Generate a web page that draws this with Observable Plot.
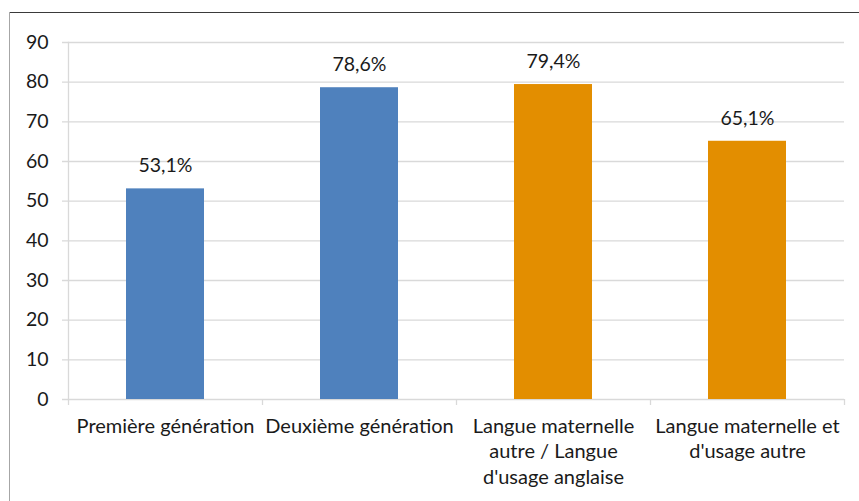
<!DOCTYPE html>
<html>
<head>
<meta charset="utf-8">
<script src="https://cdn.jsdelivr.net/npm/d3@7"></script>
<script src="https://cdn.jsdelivr.net/npm/@observablehq/plot@0.6"></script>
<style>
  html, body { margin: 0; padding: 0; background: #fff; }
  #wrap { position: relative; width: 859px; height: 501px; overflow: hidden; }
  #wrap svg { position: absolute; left: 0; top: 0; }
  #borderTop { position: absolute; left: 10px; top: 12px; width: 849px; height: 0; border-top: 1.2px solid #3a3a3a; }
  #borderLeft { position: absolute; left: 9px; top: 12px; width: 0; height: 489px; border-left: 1.5px solid #a6a6a6; }
</style>
</head>
<body>
<div id="wrap">
  <div id="borderTop"></div>
  <div id="borderLeft"></div>
</div>
<script>
const categories = [
  "Première génération",
  "Deuxième génération",
  "Langue maternelle\nautre / Langue\nd'usage anglaise",
  "Langue maternelle et\nd'usage autre"
];
const values = [53.1, 78.6, 79.4, 65.1];
const groups = ["generation", "generation", "langue", "langue"];
const valueLabels = ["53,1%", "78,6%", "79,4%", "65,1%"];
const yTicks = [0, 10, 20, 30, 40, 50, 60, 70, 80, 90];

const data = categories.map((c, i) => ({cat: c, value: values[i], group: groups[i], label: valueLabels[i]}));

const W = 859, H = 501, ML = 68, MR = 15, MT = 42, MB = 102;
const step = (W - ML - MR) / categories.length;
const font = "Lato, 'Open Sans', sans-serif";

const chart = Plot.plot({
  width: W,
  height: H,
  marginLeft: ML,
  marginRight: MR,
  marginTop: MT,
  marginBottom: MB,
  style: {fontFamily: font, fontSize: "19px", color: "#1a1a1a", background: "transparent"},
  x: {domain: categories, paddingInner: 0.6, paddingOuter: 0.3, axis: null},
  y: {domain: [0, 90], ticks: yTicks, axis: null},
  color: {domain: ["generation", "langue"], range: ["#4F81BD", "#E38E00"]},
  marks: [
    Plot.ruleY(yTicks, {stroke: "#d9d9d9", strokeWidth: 1.3, insetLeft: -6}),
    Plot.frame({anchor: "left", stroke: "#d9d9d9", strokeWidth: 1.3}),
    Plot.ruleX(categories, {x: d => d, y1: 0, y2: 0, insetBottom: -6, dx: -step / 2, stroke: "#d9d9d9", strokeWidth: 1.3}),
    Plot.ruleX(categories.slice(-1), {x: d => d, y1: 0, y2: 0, insetBottom: -6, dx: step / 2, stroke: "#d9d9d9", strokeWidth: 1.3}),
    Plot.barY(data, {x: "cat", y: "value", fill: d => d.group}),
    Plot.text(data, {x: "cat", y: "value", text: "label", dy: -23, fontSize: 19.5, fill: "#1a1a1a"}),
    Plot.text(data, {x: "cat", y: () => 0, text: "cat", lineAnchor: "top", dy: 15, lineHeight: 1.28, fontSize: 20, fill: "#1a1a1a"}),
    Plot.axisY({ticks: yTicks, tickSize: 0, tickPadding: 20, fontSize: 19.5, fill: "#1a1a1a", label: null})
  ]
});
document.getElementById("wrap").prepend(chart);
</script>
</body>
</html>
